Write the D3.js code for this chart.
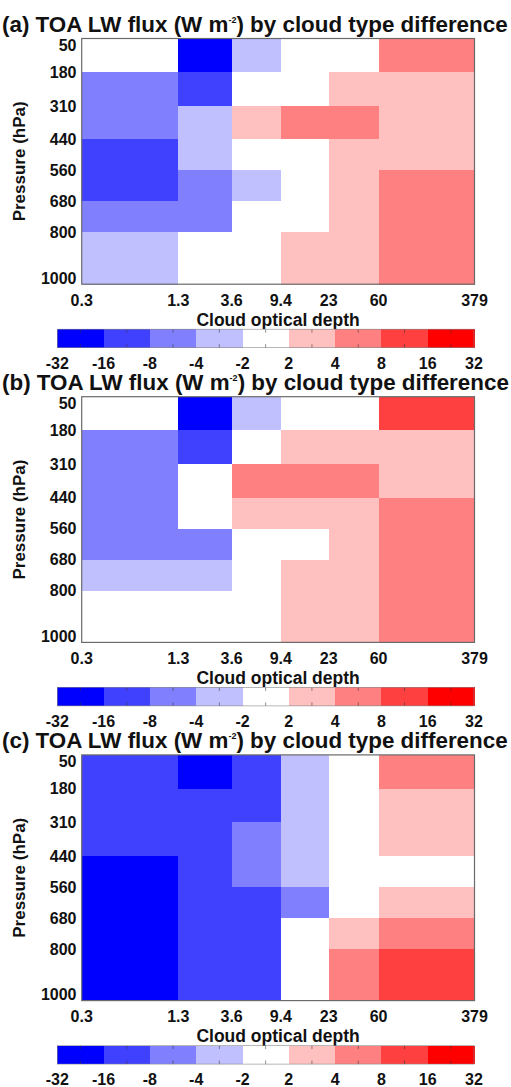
<!DOCTYPE html>
<html>
<head>
<meta charset="utf-8">
<script src="https://cdn.jsdelivr.net/npm/d3@7"></script>
<style>
  html, body { margin: 0; padding: 0; background: #fff; }
  svg { display: block; }
  text { font-family: "Liberation Sans", Arial, sans-serif; font-weight: bold; fill: #111; }
</style>
</head>
<body>
<svg id="chart" width="511" height="1087"></svg>
<script>
// Cloud optical depth bin edges (columns) and cloud-top pressure bin edges (rows, hPa)
const tauEdges = [0.3, 1.3, 3.6, 9.4, 23, 60, 379];
const pressureEdges = [50, 180, 310, 440, 560, 680, 800, 1000];

// Contour levels of the colour bar (W m-2) and the fill of each interval
const levels = [-32, -16, -8, -4, -2, 2, 4, 8, 16, 32];
const levelColors = ["#0000ff", "#4040ff", "#8080ff", "#c0c0ff", "#ffffff",
                     "#ffc0c0", "#ff8080", "#ff4040", "#ff0000"];

const panelLabels = ["(a)", "(b)", "(c)"];

// TOA LW flux difference per cloud type, rows = pressure bins (top to bottom),
// columns = optical depth bins (thin to thick)
const diffA = [
  [ 0.6, -21.5, -2.7,  1.1,  0.9,  6.3],
  [-5.4, -10.8, -0.8,  1.5,  2.6,  2.9],
  [-6.1,  -2.9,  2.4,  5.2,  4.7,  3.3],
  [-11.6, -3.2,  0.7,  1.2,  2.8,  3.6],
  [-9.7,  -5.8, -2.3,  0.4,  3.1,  5.6],
  [-5.2,  -4.6, -1.1,  0.9,  3.4,  6.8],
  [-2.8,  -1.4,  0.3,  2.5,  3.7,  7.1]
];
const diffB = [
  [ 0.4, -18.9, -2.4,  0.8,  1.3,  9.6],
  [-5.1,  -9.3, -0.6,  2.2,  2.7,  3.1],
  [-5.7,   1.2,  4.4,  5.9,  4.8,  3.8],
  [-6.3,   0.5,  2.6,  3.2,  3.5,  5.3],
  [-4.9,  -4.4,  1.6,  1.8,  3.0,  6.2],
  [-3.3,  -2.6,  1.0,  2.4,  3.3,  6.6],
  [-0.9,  -0.4,  1.4,  2.9,  3.6,  7.4]
];
const diffC = [
  [-12.4, -17.6, -13.1, -3.1,  0.6,  5.4],
  [-13.8, -12.5,  -9.4, -3.4,  1.2,  3.2],
  [-14.6, -11.9,  -6.8, -3.6,  1.5,  3.5],
  [-17.3, -13.4,  -5.5, -2.8,  1.0,  1.7],
  [-19.1, -14.2, -10.3, -4.7,  0.3,  2.8],
  [-20.6, -14.8, -11.7, -0.8,  3.1,  6.9],
  [-22.4, -15.3, -12.6, -0.5,  5.8, 10.7]
];
const panels = [diffA, diffB, diffC];

// ---- layout ----
const svg = d3.select("#chart");
const plotLeft = 81.7, plotRight = 474.5, plotHeight = 245.7;
const firstTop = 38.5, panelStep = 358.2;
// relative position of each optical-depth edge along the x axis
const tauEdgeFrac = [0, 0.2458, 0.3817, 0.507, 0.629, 0.7557, 1];
const barLeft = 57.3, barRight = 474, barHeight = 18.5;

const color = d3.scaleThreshold()
  .domain(levels.slice(1, -1))
  .range(levelColors);

const x = d3.scaleLinear()
  .domain(tauEdges)
  .range(tauEdgeFrac.map(f => plotLeft + f * (plotRight - plotLeft)));

const barX = d3.scalePoint().domain(levels).range([barLeft, barRight]);

panels.forEach((grid, pi) => {
  const top = firstTop + pi * panelStep;
  const bottom = top + plotHeight;
  const g = svg.append("g");

  const y = d3.scaleLinear().domain([50, 1000]).range([top, bottom]);

  // title
  const title = g.append("text")
    .attr("x", 2).attr("y", top - 6.5)
    .style("font-size", "22.4px");
  title.append("tspan").text(panelLabels[pi] + " TOA LW flux (W m");
  title.append("tspan").text("-2").style("font-size", "9px").attr("dy", -9);
  title.append("tspan").text(") by cloud type difference").attr("dy", 9);

  // cells
  const cells = [];
  grid.forEach((row, r) => row.forEach((v, c) => cells.push({ r, c, v })));
  g.selectAll("rect.cell").data(cells).join("rect")
    .attr("class", "cell")
    .attr("shape-rendering", "crispEdges")
    .attr("x", d => x(tauEdges[d.c]))
    .attr("y", d => y(pressureEdges[d.r]))
    .attr("width", d => x(tauEdges[d.c + 1]) - x(tauEdges[d.c]) + 0.6)
    .attr("height", d => y(pressureEdges[d.r + 1]) - y(pressureEdges[d.r]) + 0.6)
    .attr("fill", d => color(d.v));

  // frame
  g.append("rect")
    .attr("x", plotLeft).attr("y", top)
    .attr("width", plotRight - plotLeft).attr("height", plotHeight)
    .attr("fill", "none").attr("stroke", "#6a6a6a").attr("stroke-width", 1.2);

  // pressure tick labels (ends kept inside the frame)
  g.selectAll("text.ytick").data(pressureEdges).join("text")
    .attr("class", "ytick")
    .attr("x", 76.5)
    .attr("y", d => Math.min(Math.max(y(d), top + 6.7), bottom - 6))
    .attr("dy", "0.36em")
    .attr("text-anchor", "end")
    .style("font-size", "16px")
    .text(d => d);

  g.append("text")
    .attr("transform", `translate(25,${(top + bottom) / 2}) rotate(-90)`)
    .attr("text-anchor", "middle")
    .style("font-size", "17px")
    .text("Pressure (hPa)");

  // optical depth tick labels
  g.selectAll("text.xtick").data(tauEdges).join("text")
    .attr("class", "xtick")
    .attr("x", d => x(d))
    .attr("y", bottom + 16)
    .attr("dy", "0.36em")
    .attr("text-anchor", "middle")
    .style("font-size", "16px")
    .text(d => d);

  g.append("text")
    .attr("x", (plotLeft + plotRight) / 2)
    .attr("y", bottom + 35)
    .attr("dy", "0.36em")
    .attr("text-anchor", "middle")
    .style("font-size", "17.5px")
    .text("Cloud optical depth");

  // colour bar
  const barTop = bottom + 45;
  const bins = levelColors.map((c, i) => ({ lo: levels[i], hi: levels[i + 1], c }));
  g.selectAll("rect.bin").data(bins).join("rect")
    .attr("class", "bin")
    .attr("shape-rendering", "crispEdges")
    .attr("x", d => barX(d.lo))
    .attr("y", barTop)
    .attr("width", d => barX(d.hi) - barX(d.lo) + 0.6)
    .attr("height", barHeight)
    .attr("fill", d => d.c);

  const mids = bins.map(d => (barX(d.lo) + barX(d.hi)) / 2);
  g.selectAll("line.minor").data(mids.flatMap(m => [[m, barTop, barTop + 3.5], [m, barTop + barHeight - 3.5, barTop + barHeight]]))
    .join("line")
    .attr("class", "minor")
    .attr("x1", d => d[0]).attr("x2", d => d[0])
    .attr("y1", d => d[1]).attr("y2", d => d[2])
    .attr("stroke", "#333").attr("stroke-opacity", 0.55).attr("stroke-width", 1);

  g.append("rect")
    .attr("x", barLeft).attr("y", barTop)
    .attr("width", barRight - barLeft).attr("height", barHeight)
    .attr("fill", "none").attr("stroke", "#888").attr("stroke-width", 0.6);

  g.selectAll("text.btick").data(levels).join("text")
    .attr("class", "btick")
    .attr("x", d => barX(d))
    .attr("y", barTop + barHeight + 15.5)
    .attr("dy", "0.36em")
    .attr("text-anchor", "middle")
    .style("font-size", "16px")
    .text(d => d);
});
</script>
</body>
</html>
